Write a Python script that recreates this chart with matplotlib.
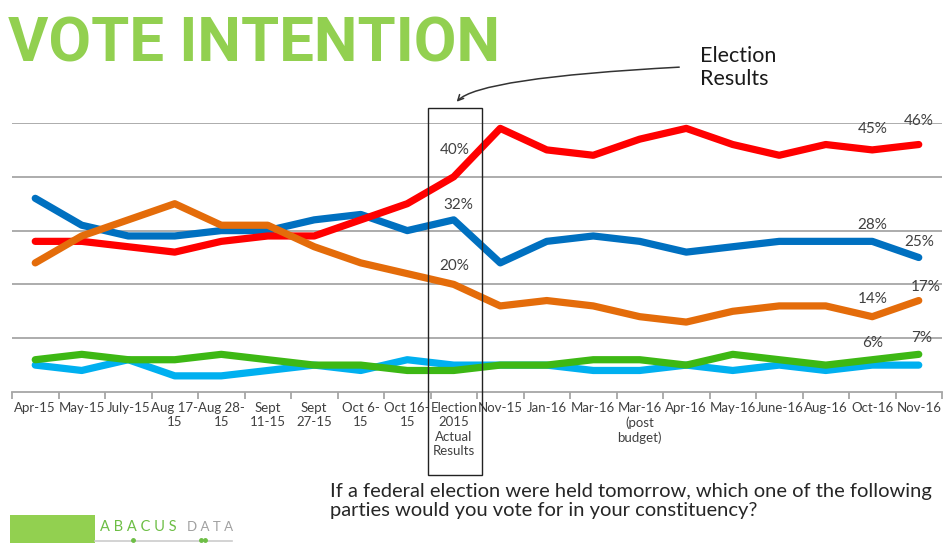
import matplotlib
matplotlib.use("Agg")
import matplotlib.pyplot as plt
from matplotlib.patches import Rectangle
from matplotlib.transforms import blended_transform_factory

# survey waves
labels = ["Apr-15", "May-15", "July-15", "Aug 17-\n15", "Aug 28-\n15", "Sept\n11-15",
          "Sept\n27-15", "Oct 6-\n15", "Oct 16-\n15", "Election\n2015\nActual\nResults",
          "Nov-15", "Jan-16", "Mar-16", "Mar-16\n(post\nbudget)", "Apr-16", "May-16",
          "June-16", "Aug-16", "Oct-16", "Nov-16"]

liberal = [28, 28, 27, 26, 28, 29, 29, 32, 35, 40, 49, 45, 44, 47, 49, 46, 44, 46, 45, 46]
conservative = [36, 31, 29, 29, 30, 30, 32, 33, 30, 32, 24, 28, 29, 28, 26, 27, 28, 28, 28, 25]
ndp = [24, 29, 32, 35, 31, 31, 27, 24, 22, 20, 16, 17, 16, 14, 13, 15, 16, 16, 14, 17]
green = [6, 7, 6, 6, 7, 6, 5, 5, 4, 4, 5, 5, 6, 6, 5, 7, 6, 5, 6, 7]
bloc = [5, 4, 6, 3, 3, 4, 5, 4, 6, 5, 5, 5, 4, 4, 5, 4, 5, 4, 5, 5]

C_RED = "#FF0000"
C_BLUE = "#0070C0"
C_ORANGE = "#E46C0A"
C_GREEN = "#3DB814"
C_LBLUE = "#00B0F0"
TXT = "#404040"

plt.rcParams["font.family"] = ["Lato", "DejaVu Sans"]

fig = plt.figure(figsize=(9.43, 5.43), dpi=100)
ax = fig.add_axes([12 / 943, 1 - 392 / 543, 930 / 943, 269 / 543])

x = list(range(len(labels)))
lw = 5.2
for ys, c in [(bloc, C_LBLUE), (green, C_GREEN), (conservative, C_BLUE),
              (liberal, C_RED), (ndp, C_ORANGE)]:
    ax.plot(x, ys, color=c, lw=lw, solid_capstyle="round", solid_joinstyle="round")

ax.set_xlim(-0.5, len(labels) - 0.5)
ax.set_ylim(0, 50)
ax.set_yticks([10, 20, 30, 40, 50])
ax.yaxis.grid(True, color="#A6A6A6", lw=1.3)
ax.set_axisbelow(True)
ax.tick_params(axis="y", length=0, labelleft=False)
for s in ["top", "right", "left"]:
    ax.spines[s].set_visible(False)
ax.spines["bottom"].set_color("#A6A6A6")
ax.spines["bottom"].set_linewidth(1.3)

ax.set_xticks(x)
ax.set_xticklabels(labels, fontsize=9.5, color=TXT, linespacing=1.25)
ax.set_xticks([i - 0.5 for i in range(len(labels) + 1)], minor=True)
ax.tick_params(axis="x", which="major", length=0, pad=7)
ax.tick_params(axis="x", which="minor", length=5, color="#A6A6A6", width=1.3)

# data labels
def lab(i, series, dx, dy):
    ax.annotate(f"{series[i]}%", (i, series[i]), xytext=(dx, dy), textcoords="offset points",
                ha="center", va="center", fontsize=11, color=TXT)

e = 9
lab(e, liberal, 1, 19)
lab(e, conservative, 3, 11)
lab(e, ndp, 0, 13)
lab(18, liberal, 0, 15)
lab(19, liberal, 0, 17)
lab(18, conservative, 0, 12)
lab(19, conservative, 0, 11)
lab(18, ndp, 0, 13)
lab(19, ndp, 5, 10)
lab(18, green, 0, 12)
lab(19, green, 2, 12)

# election box
tr = blended_transform_factory(ax.transData, fig.transFigure)
fig.patches.append(Rectangle((e - 0.55, 1 - 475 / 543), 1.15, 367 / 543, transform=tr,
                             fill=False, ec="#222222", lw=1.0))

fig.text(700 / 943, 1 - 46 / 543, "Election\nResults", fontsize=15.5, color="#1a1a1a",
         va="top", ha="left", linespacing=1.2)
ax.annotate("", xy=(455, 543 - 104), xycoords="figure pixels",
            xytext=(682, 543 - 67), textcoords="figure pixels",
            arrowprops=dict(arrowstyle="->", color="#333333", lw=1.1,
                            connectionstyle="angle3,angleA=3,angleB=60"))

# title
fig.text(8 / 943, 1 - 62 / 543, "VOTE INTENTION", fontsize=44.5, fontweight="bold",
         color="#92D050", family=["Roboto", "DejaVu Sans"], va="baseline", ha="left")

fig.text(330 / 943, 1 - 483 / 543,
         "If a federal election were held tomorrow, which one of the following\n"
         "parties would you vote for in your constituency?",
         fontsize=14.5, color="#262626", va="top", ha="left", linespacing=1.15)

# logo
fig.patches.append(Rectangle((10 / 943, 0), 85 / 943, 28 / 543, transform=fig.transFigure,
                             color="#92D050", lw=0))
fig.text(100 / 943, 1 - 531 / 543, "A B A C U S", fontsize=10.5, color="#6DBE45",
         va="baseline", ha="left")
fig.text(187 / 943, 1 - 531 / 543, "D A T A", fontsize=9.5, color="#A0A0A0",
         va="baseline", ha="left")
fig.add_artist(plt.Line2D([95 / 943, 232 / 943], [2 / 543, 2 / 543], color="#CCCCCC",
                          lw=1.2, transform=fig.transFigure))
for px in [133, 201, 205]:
    fig.add_artist(plt.Line2D([px / 943], [3 / 543], marker="o", ms=2.5, color="#6DBE45",
                              transform=fig.transFigure))

fig.savefig("out.png", dpi=100)
